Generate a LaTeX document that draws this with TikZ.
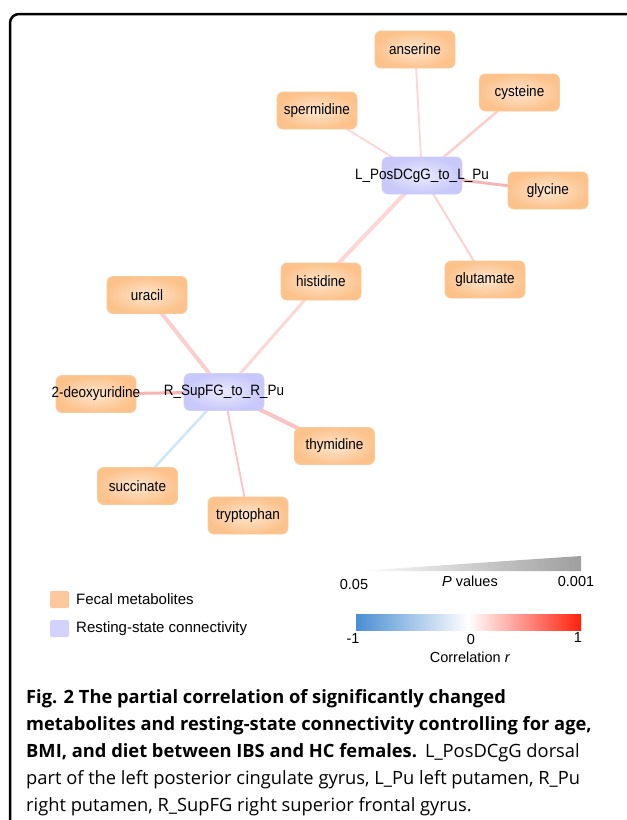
\documentclass[tikz,border=0pt]{standalone}
\usepackage{fontspec}
\setmainfont{Liberation Sans}
\newfontfamily\capfont{Open Sans}
\newfontfamily\nodefont[FakeStretch=0.9]{Liberation Sans}
\usetikzlibrary{backgrounds}
\definecolor{leafin}{RGB}{254,230,206}
\definecolor{leafout}{RGB}{252,194,140}
\definecolor{leafdraw}{RGB}{252,202,154}
\definecolor{hubin}{RGB}{234,234,254}
\definecolor{hubout}{RGB}{200,200,250}
\definecolor{hubdraw}{RGB}{208,208,250}
\definecolor{legleaf}{RGB}{252,200,156}
\definecolor{leghub}{RGB}{210,210,252}
\definecolor{ePale}{RGB}{253,214,214}
\definecolor{eLight}{RGB}{252,206,206}
\definecolor{eMid}{RGB}{250,196,196}
\definecolor{eStrong}{RGB}{247,180,180}
\definecolor{eBlue}{RGB}{204,230,250}
\definecolor{cbBlue}{RGB}{74,142,212}
\definecolor{cbRed}{RGB}{255,32,12}
\begin{document}
\begin{tikzpicture}[x=1pt,y=-1pt,
  leaf/.style={rounded corners=6pt, minimum width=80pt, minimum height=37pt, inner sep=0pt,
    inner color=leafin, outer color=leafout, draw=leafdraw, line width=0.8pt,
    font=\nodefont\fontsize{15}{17}\selectfont},
  hub/.style={rounded corners=6pt, minimum width=80pt, minimum height=37pt, inner sep=0pt,
    inner color=hubin, outer color=hubout, draw=hubdraw, line width=0.8pt,
    font=\nodefont\fontsize{15}{17}\selectfont},
  link/.style={line width=#1},
  legtext/.style={font=\fontsize{15}{18}\selectfont, anchor=west, inner sep=0pt},
  scaletext/.style={font=\fontsize{14.5}{17}\selectfont, inner sep=0pt},
  capline/.style={anchor=base west, inner sep=0pt, font=\capfont\fontsize{18.3}{22}\selectfont}
]
\useasboundingbox (0,0) rectangle (627,820);
\clip (0,0) rectangle (627,820);
% frame
\draw[line width=2.5pt, rounded corners=9pt] (10,860) -- (10,14) -- (660,14);

% hubs
\node[hub] (L) at (422,175.5) {\makebox[0pt]{L\_PosDCgG\_to\_L\_Pu}};
\node[hub] (R) at (224,392) {\makebox[0pt]{R\_SupFG\_to\_R\_Pu}};
% leaves
\node[leaf] (anserine) at (415,49.5) {\makebox[0pt]{anserine}};
\node[leaf] (cysteine) at (519.5,92.5) {\makebox[0pt]{cysteine}};
\node[leaf] (spermidine) at (317,110.5) {\makebox[0pt]{spermidine}};
\node[leaf] (glycine) at (548,190.5) {\makebox[0pt]{glycine}};
\node[leaf] (histidine) at (321,281.5) {\makebox[0pt]{histidine}};
\node[leaf] (glutamate) at (485,279.5) {\makebox[0pt]{glutamate}};
\node[leaf] (uracil) at (147,295) {\makebox[0pt]{uracil}};
\node[leaf] (deoxy) at (96,394) {\makebox[0pt]{2-deoxyuridine}};
\node[leaf] (thymidine) at (334.5,446) {\makebox[0pt]{thymidine}};
\node[leaf] (succinate) at (137.5,486) {\makebox[0pt]{succinate}};
\node[leaf] (tryptophan) at (248,515.5) {\makebox[0pt]{tryptophan}};

\begin{scope}[on background layer]
\draw[link=1.8, ePale] (L.center) -- (anserine.center);
\draw[link=2.5, eLight] (L.center) -- (cysteine.center);
\draw[link=1.8, ePale] (L.center) -- (spermidine.center);
\draw[link=2.8, eStrong] (L.center) -- (glycine.center);
\draw[link=4, ePale] (L.center) -- (histidine.center);
\draw[link=1.8, eLight] (L.center) -- (glutamate.center);
\draw[link=4, eLight] (R.center) -- (uracil.center);
\draw[link=3, ePale] (R.center) -- (histidine.center);
\draw[link=3, eStrong] (R.center) -- (deoxy.center);
\draw[link=4, eMid] (R.center) -- (thymidine.center);
\draw[link=2.5, eBlue] (R.center) -- (succinate.center);
\draw[link=1.8, eMid] (R.center) -- (tryptophan.center);
\end{scope}

% legend
\node[rounded corners=2pt, fill=legleaf, minimum width=19pt, minimum height=17pt, inner sep=0pt] (legA) at (59.5,599.5) {};
\node[legtext] (legAt) at (76,599.5) {Fecal metabolites};
\node[rounded corners=2pt, fill=leghub, minimum width=19pt, minimum height=17pt, inner sep=0pt] (legB) at (59.5,628.5) {};
\node[legtext] (legBt) at (76,628.5) {Resting-state connectivity};

% P value wedge
\shade[left color=white, right color=black!38] (357,571) -- (581,556) -- (581,571) -- cycle;
\node[scaletext] (p1) at (354,584) {0.05};
\node[scaletext] (p2) at (470,581) {\textit{P} values};
\node[scaletext] (p3) at (576,581) {0.001};

% colour bar
\shade[left color=cbBlue, right color=white] (356,614) rectangle (468.5,630);
\shade[left color=white, right color=cbRed] (468.5,614) rectangle (581,630);
\node[scaletext] (c1) at (353,639) {-1};
\node[scaletext] (c2) at (471,639) {0};
\node[scaletext] (c3) at (578,638) {1};
\node[scaletext] (c4) at (470,657) {Correlation \textit{r}};

% caption
\node[capline] (cap1) at (26,703) {\textbf{Fig. 2 The partial correlation of significantly changed}};
\node[capline] (cap2) at (26,730) {\textbf{metabolites and resting-state connectivity controlling for age,}};
\node[capline] (cap3) at (26,757) {\textbf{BMI, and diet between IBS and HC females.}\hspace{8pt}L\_PosDCgG dorsal};
\node[capline] (cap4) at (26,784) {part of the left posterior cingulate gyrus, L\_Pu left putamen, R\_Pu};
\node[capline] (cap5) at (26,811) {right putamen, R\_SupFG right superior frontal gyrus.};
\end{tikzpicture}
\end{document}
